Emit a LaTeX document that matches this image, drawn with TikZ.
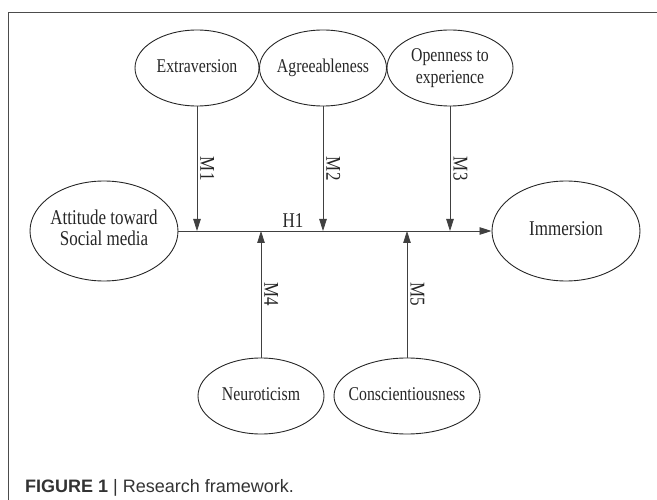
\documentclass[tikz,border=0pt]{standalone}
\usepackage{fontspec}
\setmainfont{Liberation Serif}[FakeStretch=0.81]
\newfontfamily\capfont{Liberation Sans}
\usetikzlibrary{arrows.meta,positioning,shapes.geometric}

% text of an ellipse, kept from widening the shape
\newcommand{\ctext}[1]{\makebox[0pt]{\begin{tabular}{@{}c@{}}#1\end{tabular}}}

\begin{document}
\begin{tikzpicture}[x=1pt, y=-1pt,
  construct/.style={draw=black!85, ellipse, inner sep=0pt, text=black!85, line width=0.9pt, font=\fontsize{21}{21}\selectfont},
  trait/.style={construct, minimum height=76pt, font=\fontsize{19.5}{22}\selectfont},
  arrow/.style={-{Triangle[length=12pt, width=7.5pt]}, draw=black!75, line width=0.8pt},
  lab/.style={font=\fontsize{21}{21}\selectfont, text=black!85, inner sep=3pt},
]
\useasboundingbox (0,0) rectangle (657,500);

% frame
\draw[black!70, line width=1pt] (8,500) -- (8,12.5) -- (657,12.5);

\node[construct, minimum width=148pt, minimum height=100pt] (att) at (104,231) {\ctext{Attitude toward\\Social media}};
\node[construct, minimum width=148pt, minimum height=100pt] (imm) at (566,231) {\ctext{Immersion}};

\node[trait, minimum width=124pt] (extra) at (197,68) {\ctext{Extraversion}};
\node[trait, minimum width=127pt] (agree) at (323,68) {\ctext{Agreeableness}};
\node[trait, minimum width=126pt] (open) at (450,68) {\ctext{Openness to\\experience}};
\node[trait, minimum width=126pt] (neuro) at (261,396) {\ctext{Neuroticism}};
\node[trait, minimum width=146pt] (consc) at (407,396) {\ctext{Conscientiousness}};

\draw[arrow] (att) -- (imm) node[lab, pos=0.366, above] (h1) {H1};

\draw[arrow] (extra) -- (extra |- att) node[lab, midway, anchor=south, rotate=-90] {M1};
\draw[arrow] (agree) -- (agree |- att) node[lab, midway, anchor=south, rotate=-90] {M2};
\draw[arrow] (open) -- (open |- att) node[lab, midway, anchor=south, rotate=-90] {M3};
\draw[arrow] (neuro) -- (neuro |- att) node[lab, midway, anchor=south, rotate=-90] {M4};
\draw[arrow] (consc) -- (consc |- att) node[lab, midway, anchor=south, rotate=-90] {M5};

\node[anchor=base west, inner sep=0pt, text=black!80, font=\capfont\fontsize{18}{20}\selectfont] (caption) at (25,492) {\textbf{FIGURE 1} | Research framework.};

\end{tikzpicture}
\end{document}
